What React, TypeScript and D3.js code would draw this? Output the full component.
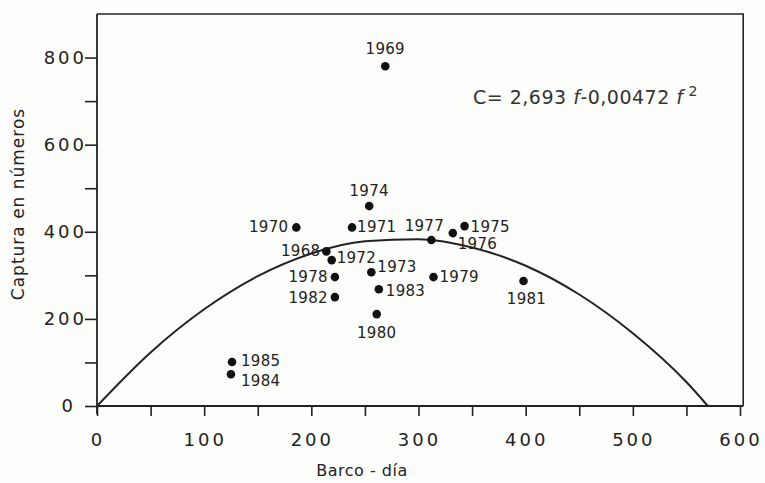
import * as d3 from 'd3'
import { useEffect, useRef } from 'react'

// años y valores (barco-día, captura en números)
const years = ['1968', '1969', '1970', '1971', '1972', '1973', '1974', '1975', '1976', '1977', '1978', '1979', '1980', '1981', '1982', '1983', '1984', '1985']
const effort = [214, 269, 186, 238, 219, 256, 254, 343, 332, 312, 222, 314, 261, 398, 222, 263, 125, 126]
const catchNum = [355, 780, 410, 410, 335, 307, 459, 413, 397, 381, 296, 296, 211, 287, 250, 268, 73, 101]

// curva ajustada
const curveF = [0, 50, 100, 150, 200, 250, 300, 350, 400, 450, 500, 550, 570]
const curveC = [0, 123, 222, 298, 350, 378, 383, 364, 322, 256, 167, 55, 0]

const xTicks = [0, 100, 200, 300, 400, 500, 600]
const yTicks = [0, 200, 400, 600, 800]

// posición de cada etiqueta respecto a su punto
const labelPos = {
  '1968': { dx: -6, dy: 5, anchor: 'end' },
  '1969': { dx: 0, dy: -12, anchor: 'middle' },
  '1970': { dx: -8, dy: 5, anchor: 'end' },
  '1971': { dx: 5, dy: 5, anchor: 'start' },
  '1972': { dx: 5, dy: 3, anchor: 'start' },
  '1973': { dx: 6, dy: 0, anchor: 'start' },
  '1974': { dx: 0, dy: -10, anchor: 'middle' },
  '1975': { dx: 6, dy: 6, anchor: 'start' },
  '1976': { dx: 5, dy: 16, anchor: 'start' },
  '1977': { dx: -7, dy: -9, anchor: 'middle' },
  '1978': { dx: -7, dy: 5, anchor: 'end' },
  '1979': { dx: 6, dy: 5, anchor: 'start' },
  '1980': { dx: 0, dy: 24, anchor: 'middle' },
  '1981': { dx: 3, dy: 23, anchor: 'middle' },
  '1982': { dx: -7, dy: 6, anchor: 'end' },
  '1983': { dx: 7, dy: 7, anchor: 'start' },
  '1984': { dx: 10, dy: 12, anchor: 'start' },
  '1985': { dx: 9, dy: 4, anchor: 'start' },
}

export default function App() {
  const ref = useRef(null)

  useEffect(() => {
    const svg = d3.select(ref.current)
    svg.selectAll('*').remove()
    const width = 765
    const height = 483
    const margin = { top: 14, right: 25, bottom: 77, left: 97 }
    const ink = '#222'
    const font = '"DejaVu Sans", sans-serif'

    const x = d3.scaleLinear().domain([0, 600]).range([margin.left, 740])
    const y = d3.scaleLinear().domain([0, 900]).range([height - margin.bottom, margin.top])

    svg.append('rect').attr('width', width).attr('height', height).attr('fill', '#fdfdfb')

    // marco
    svg.append('path')
      .attr('d', `M${x(0)},${y(900)}H${x(603)}V${y(0)}`)
      .attr('fill', 'none').attr('stroke', ink).attr('stroke-width', 1.6)

    const xAxis = (g) =>
      g.attr('transform', `translate(0,${y(0)})`)
        .call(d3.axisBottom(x).tickValues(d3.range(0, 601, 50)).tickSize(10).tickFormat(() => '').tickSizeOuter(0))
        .call((g) => g.select('.domain').attr('d', `M${x(0)},0H${x(603)}`))
        .call((g) => g.selectAll('line').attr('stroke', ink).attr('stroke-width', 1.6))
        .call((g) => g.selectAll('path').attr('stroke', ink).attr('stroke-width', 1.8))

    const yAxis = (g) =>
      g.attr('transform', `translate(${x(0)},0)`)
        .call(d3.axisLeft(y).tickValues(d3.range(0, 801, 100)).tickSize(12).tickFormat(() => '').tickSizeOuter(0))
        .call((g) => g.select('.domain').attr('d', `M0,${y(900)}V${y(0) + 8}`))
        .call((g) => g.selectAll('line').attr('stroke', ink).attr('stroke-width', 1.6))
        .call((g) => g.selectAll('path').attr('stroke', ink).attr('stroke-width', 1.8))

    svg.append('g').call(xAxis)
    svg.append('g').call(yAxis)

    svg.append('g')
      .selectAll('text')
      .data(xTicks)
      .join('text')
      .attr('x', (d) => x(d) + 1)
      .attr('y', y(0) + 40)
      .attr('text-anchor', 'middle')
      .attr('font-family', font)
      .attr('font-size', 18)
      .attr('letter-spacing', 3)
      .attr('fill', ink)
      .text((d) => d)

    svg.append('g')
      .selectAll('text')
      .data(yTicks)
      .join('text')
      .attr('x', (d) => (d === 0 ? 76 : 87))
      .attr('y', (d) => y(d) + 6)
      .attr('text-anchor', 'end')
      .attr('font-family', font)
      .attr('font-size', 18)
      .attr('letter-spacing', 3)
      .attr('fill', ink)
      .text((d) => d)

    // curva
    const curve = d3.line().x((d) => x(d[0])).y((d) => y(d[1])).curve(d3.curveMonotoneX)
    svg.append('path')
      .attr('d', curve(d3.zip(curveF, curveC)))
      .attr('fill', 'none').attr('stroke', ink).attr('stroke-width', 2)

    // puntos
    const pts = years.map((yr, i) => ({ yr, f: effort[i], c: catchNum[i] }))
    svg.append('g')
      .selectAll('circle')
      .data(pts)
      .join('circle')
      .attr('cx', (d) => x(d.f))
      .attr('cy', (d) => y(d.c))
      .attr('r', 4.3)
      .attr('fill', '#111')

    svg.append('g')
      .selectAll('text')
      .data(pts)
      .join('text')
      .attr('x', (d) => x(d.f) + labelPos[d.yr].dx)
      .attr('y', (d) => y(d.c) + labelPos[d.yr].dy)
      .attr('text-anchor', (d) => labelPos[d.yr].anchor)
      .attr('font-family', font)
      .attr('font-size', 15)
      .attr('letter-spacing', 0.3)
      .attr('fill', ink)
      .text((d) => d.yr)

    // ecuación
    const eq = svg.append('text')
      .attr('x', 473)
      .attr('y', 104)
      .attr('font-family', font)
      .attr('font-size', 19)
      .attr('letter-spacing', 0.5)
      .attr('fill', '#333')
    eq.append('tspan').text('C= 2,693 ')
    eq.append('tspan').attr('font-style', 'italic').text('f')
    eq.append('tspan').text('-0,00472 ')
    eq.append('tspan').attr('font-style', 'italic').text('f')
    eq.append('tspan').attr('dy', -8).attr('font-size', 14).text(' 2')

    // títulos de ejes
    svg.append('text')
      .attr('transform', `translate(24,204) rotate(-90)`)
      .attr('text-anchor', 'middle')
      .attr('font-family', font)
      .attr('font-size', 17)
      .attr('letter-spacing', 1)
      .attr('fill', ink)
      .text('Captura en números')

    svg.append('text')
      .attr('x', 362)
      .attr('y', 476)
      .attr('text-anchor', 'middle')
      .attr('font-family', font)
      .attr('font-size', 16)
      .attr('letter-spacing', 0.5)
      .attr('fill', ink)
      .text('Barco - día')
  }, [])

  return (
    <svg ref={ref} width={765} height={483} style={{ position: 'absolute', left: 0, top: 0, display: 'block' }} />
  )
}
